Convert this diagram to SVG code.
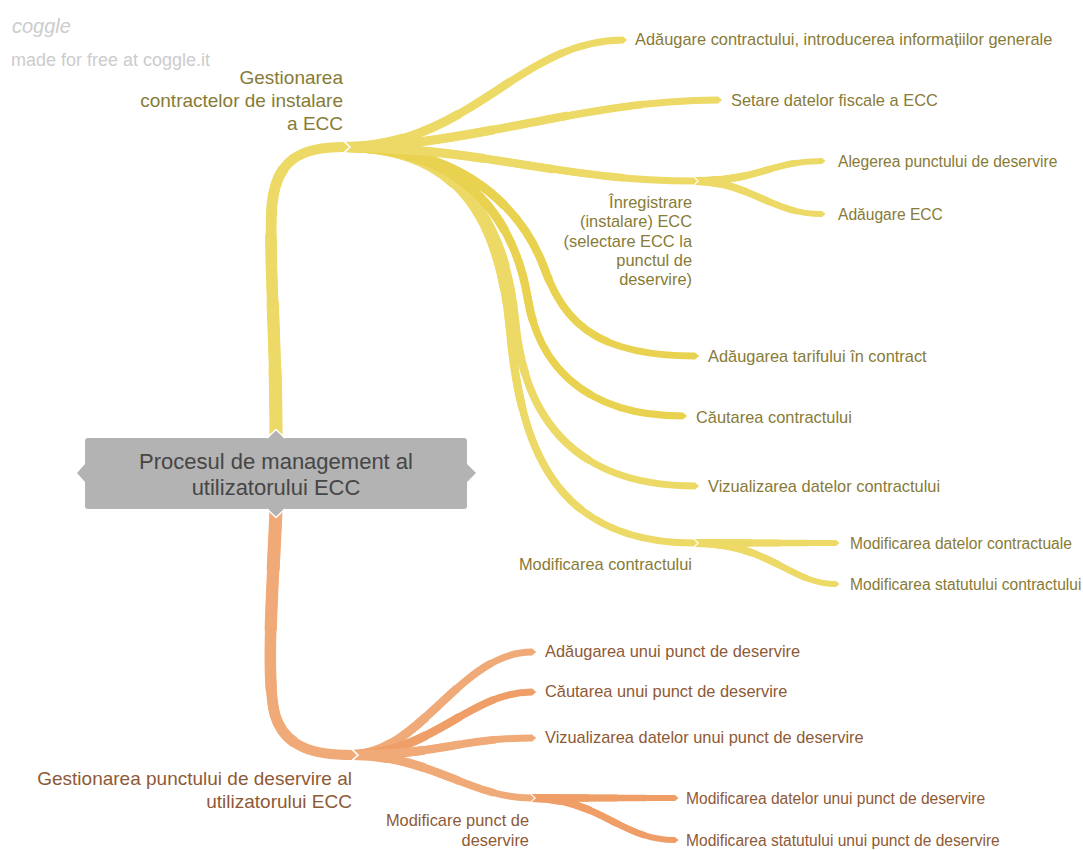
<svg xmlns="http://www.w3.org/2000/svg" width="1083" height="850" viewBox="0 0 1083 850">
<style>
.t{font-family:"Liberation Sans",Arial,sans-serif}
.ty{fill:#877b36}
.to{fill:#8e5a36}
.leaf{font-size:16.4px}
.leaf2{font-size:15.6px}
.node{font-size:19px}
.wm{fill:#cccccc}
.conn use{fill:none}
.Y1{stroke:#ecd966}
.Y2{stroke:#e9d24f}
.O1{stroke:#f0aa78}
.O2{stroke:#ee9e66}
.s4{stroke-dasharray:80 100}
.s3{stroke-dasharray:60 100}
.s2{stroke-dasharray:40 100}
.s1{stroke-dasharray:20 100}
.L0 .s5{stroke-width:10}
.L0 .s4{stroke-width:10.75}
.L0 .s3{stroke-width:11.5}
.L0 .s2{stroke-width:12.25}
.L0 .s1{stroke-width:13}
.L1 .s5{stroke-width:7}
.L1 .s4{stroke-width:7.6}
.L1 .s3{stroke-width:8.3}
.L1 .s2{stroke-width:9.1}
.L1 .s1{stroke-width:10}
.L2 .s5{stroke-width:6}
.L2 .s4{stroke-width:6.5}
.L2 .s3{stroke-width:7}
.L2 .s2{stroke-width:7.5}
.L2 .s1{stroke-width:8}
.Y1.lf .s5{marker-end:url(#tY1)}
.Y2.lf .s5{marker-end:url(#tY2)}
.Y1.jn .s5{marker-end:url(#jY1)}
.O1.lf .s5{marker-end:url(#tO1)}
.O2.lf .s5{marker-end:url(#tO2)}
.O1.jn .s5{marker-end:url(#jO1)}
</style>
<defs>
<marker id="tY1" viewBox="-0.1 -0.5 0.7 1" refX="0" refY="0" markerWidth="0.7" markerHeight="1" markerUnits="strokeWidth" orient="auto" overflow="visible"><path d="M-0.05,-0.5L0,-0.5L0.6,0L0,0.5L-0.05,0.5Z" fill="#ecd966"/></marker>
<marker id="tY2" viewBox="-0.1 -0.5 0.7 1" refX="0" refY="0" markerWidth="0.7" markerHeight="1" markerUnits="strokeWidth" orient="auto" overflow="visible"><path d="M-0.05,-0.5L0,-0.5L0.6,0L0,0.5L-0.05,0.5Z" fill="#e9d24f"/></marker>
<marker id="jY1" viewBox="-0.1 -0.5 0.7 1" refX="0" refY="0" markerWidth="0.7" markerHeight="1" markerUnits="strokeWidth" orient="auto" overflow="visible"><path d="M-0.05,-0.5L0,-0.5L0.6,0L0,0.5L-0.05,0.5Z" fill="#ecd966"/><path d="M0,-0.56L0.6,0L0,0.56" fill="none" stroke="#ffffff" stroke-width="0.16"/></marker>
<marker id="tO1" viewBox="-0.1 -0.5 0.7 1" refX="0" refY="0" markerWidth="0.7" markerHeight="1" markerUnits="strokeWidth" orient="auto" overflow="visible"><path d="M-0.05,-0.5L0,-0.5L0.6,0L0,0.5L-0.05,0.5Z" fill="#f0aa78"/></marker>
<marker id="tO2" viewBox="-0.1 -0.5 0.7 1" refX="0" refY="0" markerWidth="0.7" markerHeight="1" markerUnits="strokeWidth" orient="auto" overflow="visible"><path d="M-0.05,-0.5L0,-0.5L0.6,0L0,0.5L-0.05,0.5Z" fill="#ee9e66"/></marker>
<marker id="jO1" viewBox="-0.1 -0.5 0.7 1" refX="0" refY="0" markerWidth="0.7" markerHeight="1" markerUnits="strokeWidth" orient="auto" overflow="visible"><path d="M-0.05,-0.5L0,-0.5L0.6,0L0,0.5L-0.05,0.5Z" fill="#f0aa78"/><path d="M0,-0.56L0.6,0L0,0.56" fill="none" stroke="#ffffff" stroke-width="0.16"/></marker>
<path id="pa" pathLength="100" d="M694 181 C760 181 770 161 822 161"/>
<path id="pb" pathLength="100" d="M694 181 C750 181 770 214 822 214"/>
<path id="pc" pathLength="100" d="M694 543 L836 543"/>
<path id="pd" pathLength="100" d="M694 543 C770 543 790 584 836 584"/>
<path id="py1" pathLength="100" d="M344 147 C470 147 520 40 623 40"/>
<path id="py2" pathLength="100" d="M344 147 C470 147 580 100 718 100"/>
<path id="py3" pathLength="100" d="M344 147 C480 147 560 181 694 181"/>
<path id="py4" pathLength="100" d="M344 147 C470 147 525 215 545 270 C565 325 600 356 695 356"/>
<path id="py5" pathLength="100" d="M344 147 C465 147 515 220 528 300 C538 360 580 416 683 416"/>
<path id="py6" pathLength="100" d="M344 147 C460 147 505 220 515 320 C522 400 560 486 695 486"/>
<path id="py7" pathLength="100" d="M344 147 C460 147 500 220 510 330 C520 440 550 543 694 543"/>
<path id="pyt" pathLength="100" d="M276 436 C276 330 268 250 272 205 C276 160 300 147 344 147"/>
<path id="pot" pathLength="100" d="M276 511 C272 600 266 680 275 715 C285 748 315 755 352 755"/>
<path id="po1" pathLength="100" d="M352 755 C420 755 460 652 532 652"/>
<path id="po2" pathLength="100" d="M352 755 C430 755 470 692 532 692"/>
<path id="po3" pathLength="100" d="M352 755 C440 755 460 738 532 738"/>
<path id="po4" pathLength="100" d="M352 755 C430 755 470 798 531 798"/>
<path id="po5" pathLength="100" d="M531 798 L675 798"/>
<path id="po6" pathLength="100" d="M531 798 C600 798 620 840 675 840"/>
</defs>
<rect width="1083" height="850" fill="#ffffff"/>
<g id="watermark" class="t wm">
<text x="12" y="33" font-size="20" font-style="italic" fill="#cccccc">coggle</text>
<text x="11" y="66" font-size="18">made for free at coggle.it</text>
</g>
<g id="connectors" class="conn">
<g class="L2 Y1 lf"><use href="#pa" class="s5"/><use href="#pa" class="s4"/><use href="#pa" class="s3"/><use href="#pa" class="s2"/><use href="#pa" class="s1"/></g>
<g class="L2 Y1 lf"><use href="#pb" class="s5"/><use href="#pb" class="s4"/><use href="#pb" class="s3"/><use href="#pb" class="s2"/><use href="#pb" class="s1"/></g>
<g class="L2 Y1 lf"><use href="#pc" class="s5"/><use href="#pc" class="s4"/><use href="#pc" class="s3"/><use href="#pc" class="s2"/><use href="#pc" class="s1"/></g>
<g class="L2 Y1 lf"><use href="#pd" class="s5"/><use href="#pd" class="s4"/><use href="#pd" class="s3"/><use href="#pd" class="s2"/><use href="#pd" class="s1"/></g>
<g class="L1 Y1 lf"><use href="#py1" class="s5"/><use href="#py1" class="s4"/><use href="#py1" class="s3"/><use href="#py1" class="s2"/><use href="#py1" class="s1"/></g>
<g class="L1 Y1 lf"><use href="#py2" class="s5"/><use href="#py2" class="s4"/><use href="#py2" class="s3"/><use href="#py2" class="s2"/><use href="#py2" class="s1"/></g>
<g class="L1 Y1 lf"><use href="#py6" class="s5"/><use href="#py6" class="s4"/><use href="#py6" class="s3"/><use href="#py6" class="s2"/><use href="#py6" class="s1"/></g>
<g class="L1 Y1 jn"><use href="#py7" class="s5"/><use href="#py7" class="s4"/><use href="#py7" class="s3"/><use href="#py7" class="s2"/><use href="#py7" class="s1"/></g>
<g class="L1 Y2 lf"><use href="#py5" class="s5"/><use href="#py5" class="s4"/><use href="#py5" class="s3"/><use href="#py5" class="s2"/><use href="#py5" class="s1"/></g>
<g class="L1 Y2 lf"><use href="#py4" class="s5"/><use href="#py4" class="s4"/><use href="#py4" class="s3"/><use href="#py4" class="s2"/><use href="#py4" class="s1"/></g>
<g class="L1 Y1 jn"><use href="#py3" class="s5"/><use href="#py3" class="s4"/><use href="#py3" class="s3"/><use href="#py3" class="s2"/><use href="#py3" class="s1"/></g>
<g class="L0 Y1 jn"><use href="#pyt" class="s5"/><use href="#pyt" class="s4"/><use href="#pyt" class="s3"/><use href="#pyt" class="s2"/><use href="#pyt" class="s1"/></g>
<g class="L2 O2 lf"><use href="#po5" class="s5"/><use href="#po5" class="s4"/><use href="#po5" class="s3"/><use href="#po5" class="s2"/><use href="#po5" class="s1"/></g>
<g class="L2 O2 lf"><use href="#po6" class="s5"/><use href="#po6" class="s4"/><use href="#po6" class="s3"/><use href="#po6" class="s2"/><use href="#po6" class="s1"/></g>
<g class="L1 O1 lf"><use href="#po1" class="s5"/><use href="#po1" class="s4"/><use href="#po1" class="s3"/><use href="#po1" class="s2"/><use href="#po1" class="s1"/></g>
<g class="L1 O2 lf"><use href="#po2" class="s5"/><use href="#po2" class="s4"/><use href="#po2" class="s3"/><use href="#po2" class="s2"/><use href="#po2" class="s1"/></g>
<g class="L1 O1 lf"><use href="#po3" class="s5"/><use href="#po3" class="s4"/><use href="#po3" class="s3"/><use href="#po3" class="s2"/><use href="#po3" class="s1"/></g>
<g class="L1 O1 jn"><use href="#po4" class="s5"/><use href="#po4" class="s4"/><use href="#po4" class="s3"/><use href="#po4" class="s2"/><use href="#po4" class="s1"/></g>
<g class="L0 O1 jn"><use href="#pot" class="s5"/><use href="#pot" class="s4"/><use href="#pot" class="s3"/><use href="#pot" class="s2"/><use href="#pot" class="s1"/></g>
</g>
<g id="root">
<rect x="85" y="438" width="382" height="71" rx="3" fill="#b3b3b3"/>
<polygon points="85,464 77,473 85,482" fill="#b3b3b3"/>
<polygon points="467,464 476,473 467,482" fill="#b3b3b3"/>
<polygon points="267,439 276,430 285,439" fill="#b3b3b3"/>
<polyline points="267,438 276,429.5 285,438" fill="none" stroke="#ffffff" stroke-width="1.5"/>
<polygon points="267,508 276,517 285,508" fill="#b3b3b3"/>
<polyline points="267,509 276,517.5 285,509" fill="none" stroke="#ffffff" stroke-width="1.5"/>
<text class="t" x="276" font-size="22" fill="#464646" text-anchor="middle"><tspan x="276" y="469">Procesul de management al</tspan><tspan x="276" y="495">utilizatorului ECC</tspan></text>
</g>
<g id="n-contracte" class="t ty node"><text text-anchor="end"><tspan x="343" y="84">Gestionarea</tspan><tspan x="343" y="107">contractelor de instalare</tspan><tspan x="343" y="130">a ECC</tspan></text></g>
<g id="n-adaugare-contract" class="t ty leaf"><text x="635" y="45">Adăugare contractului, introducerea informațiilor generale</text></g>
<g id="n-setare" class="t ty leaf"><text x="731" y="106">Setare datelor fiscale a ECC</text></g>
<g id="n-inregistrare" class="t ty leaf"><text text-anchor="end"><tspan x="692" y="208">Înregistrare</tspan><tspan x="692" y="227">(instalare) ECC</tspan><tspan x="692" y="247">(selectare ECC la</tspan><tspan x="692" y="266">punctul de</tspan><tspan x="692" y="285">deservire)</tspan></text></g>
<g id="n-alegerea" class="t ty leaf2"><text x="838" y="167">Alegerea punctului de deservire</text></g>
<g id="n-adaugare-ecc" class="t ty leaf2"><text x="838" y="220">Adăugare ECC</text></g>
<g id="n-tarif" class="t ty leaf"><text x="708" y="362">Adăugarea tarifului în contract</text></g>
<g id="n-cautare" class="t ty leaf"><text x="696" y="423">Căutarea contractului</text></g>
<g id="n-vizualizare" class="t ty leaf"><text x="708" y="492">Vizualizarea datelor contractului</text></g>
<g id="n-modificare" class="t ty leaf"><text x="692" y="570" text-anchor="end">Modificarea contractului</text></g>
<g id="n-mod-date" class="t ty leaf2"><text x="850" y="549">Modificarea datelor contractuale</text></g>
<g id="n-mod-statut" class="t ty leaf2"><text x="850" y="590">Modificarea statutului contractului</text></g>
<g id="n-punct" class="t to node"><text text-anchor="end"><tspan x="352" y="785">Gestionarea punctului de deservire al</tspan><tspan x="352" y="808">utilizatorului ECC</tspan></text></g>
<g id="n-p-adaugare" class="t to leaf"><text x="545" y="657">Adăugarea unui punct de deservire</text></g>
<g id="n-p-cautare" class="t to leaf"><text x="545" y="697">Căutarea unui punct de deservire</text></g>
<g id="n-p-vizualizare" class="t to leaf"><text x="545" y="743">Vizualizarea datelor unui punct de deservire</text></g>
<g id="n-p-modificare" class="t to leaf"><text text-anchor="end"><tspan x="529" y="826">Modificare punct de</tspan><tspan x="529" y="846">deservire</tspan></text></g>
<g id="n-p-mod-date" class="t to leaf2"><text x="686" y="804">Modificarea datelor unui punct de deservire</text></g>
<g id="n-p-mod-statut" class="t to leaf2"><text x="686" y="846">Modificarea statutului unui punct de deservire</text></g>
</svg>
